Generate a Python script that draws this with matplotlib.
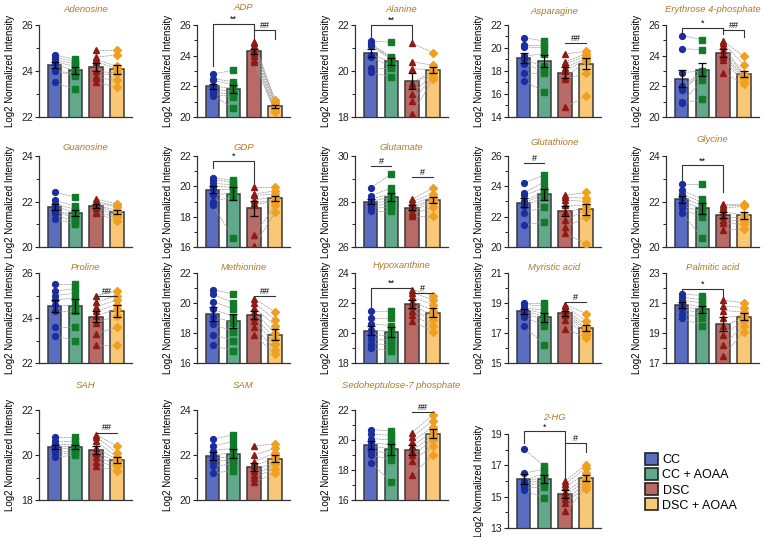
import matplotlib
matplotlib.use('Agg')
import matplotlib.pyplot as plt
import numpy as np
from matplotlib.patches import Patch

plt.rcParams['font.family'] = ['Liberation Sans', 'DejaVu Sans']

groups = ['CC', 'CC + AOAA', 'DSC', 'DSC + AOAA']
bar_colors = ['#5B6DC0', '#62A88A', '#B86A66', '#F8C877']
pt_colors = ['#1B2E9E', '#137A2A', '#8E1B14', '#F0A020']
markers = ['o', 's', '^', 'D']
title_color = '#B07A28'

# ---- data (4 groups x 8 paired samples) ----
adenosine = [[24.7, 24.6, 24.5, 24.4, 24.3, 24.0, 24.0, 23.5],
             [24.5, 24.4, 24.3, 24.2, 24.0, 23.9, 23.8, 23.2],
             [24.9, 24.6, 24.5, 24.4, 24.0, 23.8, 23.7, 23.5],
             [24.9, 24.7, 24.2, 24.1, 23.9, 23.9, 23.6, 23.3]]
adp = [[22.8, 22.5, 22.4, 22.0, 21.8, 21.6, 21.5, 21.4],
       [23.05, 22.3, 22.1, 21.9, 21.7, 21.5, 21.3, 20.6],
       [24.9, 24.8, 24.6, 24.4, 24.2, 24.0, 23.7, 23.6],
       [21.1, 21.0, 20.9, 20.8, 20.6, 20.5, 20.4, 20.3]]
alanine = [[21.3, 21.2, 21.15, 21.1, 20.7, 20.6, 20.15, 19.95],
           [21.25, 20.6, 20.55, 20.5, 20.4, 20.2, 20.15, 19.75],
           [21.2, 20.4, 20.1, 19.5, 19.4, 19.0, 18.7, 18.15],
           [20.8, 20.25, 20.05, 20.0, 19.95, 19.9, 19.75, 19.65]]
asparagine = [[20.9, 20.3, 20.1, 19.3, 19.0, 18.6, 17.8, 17.15],
              [20.6, 20.3, 20.0, 19.5, 18.4, 18.0, 17.8, 16.2],
              [19.5, 18.8, 18.6, 18.3, 18.0, 17.4, 17.3, 14.9],
              [19.7, 19.5, 19.3, 19.1, 19.0, 18.9, 17.8, 15.8]]
erythrose = [[25.3, 24.45, 22.9, 22.0, 21.8, 21.75, 20.95, 20.9],
             [25.05, 24.4, 23.0, 22.95, 22.9, 22.8, 22.4, 21.15],
             [24.95, 24.8, 24.6, 24.4, 24.1, 23.9, 23.7, 22.9],
             [23.95, 23.4, 22.8, 22.7, 22.6, 22.5, 22.3, 22.15]]
guanosine = [[22.4, 22.05, 21.9, 21.8, 21.65, 21.6, 21.45, 21.25],
             [22.2, 21.8, 21.65, 21.5, 21.35, 21.25, 21.1, 21.0],
             [22.1, 22.0, 21.95, 21.85, 21.8, 21.7, 21.55, 21.5],
             [21.9, 21.8, 21.75, 21.6, 21.5, 21.4, 21.3, 21.15]]
gdp = [[20.55, 20.4, 20.2, 20.0, 19.8, 19.4, 19.0, 18.75],
       [20.4, 20.3, 20.1, 19.95, 19.8, 19.6, 19.3, 16.6],
       [19.95, 19.5, 19.4, 19.1, 18.9, 18.8, 16.8, 16.05],
       [19.95, 19.7, 19.5, 19.3, 19.1, 19.0, 18.75, 18.3]]
glutamate = [[28.6, 28.25, 28.1, 28.0, 27.9, 27.8, 27.7, 27.6],
             [29.2, 28.6, 28.35, 28.2, 28.05, 27.9, 27.75, 27.6],
             [28.1, 28.0, 27.9, 27.8, 27.7, 27.55, 27.45, 27.35],
             [28.6, 28.35, 28.2, 28.1, 28.05, 28.0, 27.75, 27.35]]
glutathione = [[24.2, 23.55, 23.4, 23.0, 22.9, 22.7, 22.25, 21.45],
               [24.75, 24.3, 23.9, 23.7, 23.5, 23.3, 22.65, 21.65],
               [23.4, 23.3, 23.1, 22.8, 22.3, 21.8, 21.3, 20.9],
               [23.6, 23.2, 23.0, 22.8, 22.6, 22.4, 22.0, 20.2]]
glycine = [[22.75, 22.5, 22.35, 22.2, 22.0, 21.8, 21.7, 21.5],
           [22.75, 22.1, 21.95, 21.8, 21.7, 21.55, 21.3, 20.4],
           [21.9, 21.8, 21.7, 21.55, 21.35, 21.2, 21.05, 20.75],
           [21.9, 21.85, 21.8, 21.4, 21.25, 21.15, 21.0, 20.8]]
proline = [[25.5, 25.2, 25.0, 24.8, 24.6, 24.3, 23.6, 23.2],
           [25.5, 25.3, 25.1, 24.9, 24.6, 24.3, 23.6, 23.0],
           [25.0, 24.7, 24.5, 24.3, 24.1, 23.8, 23.3, 22.8],
           [25.2, 25.0, 24.8, 24.6, 24.4, 24.1, 23.6, 22.8]]
methionine = [[20.9, 20.6, 20.1, 19.6, 19.1, 18.6, 17.9, 17.2],
              [20.6, 20.0, 19.6, 19.1, 18.7, 18.1, 17.5, 16.8],
              [20.3, 20.0, 19.7, 19.4, 19.1, 18.8, 18.4, 17.9],
              [19.4, 18.9, 18.5, 18.0, 17.6, 17.3, 16.9, 16.6]]
hypoxanthine = [[21.5, 21.0, 20.6, 20.2, 19.9, 19.6, 19.3, 19.0],
                [21.5, 21.0, 20.5, 20.1, 19.8, 19.5, 19.2, 18.8],
                [22.9, 22.7, 22.4, 22.1, 21.8, 21.5, 21.2, 20.8],
                [22.5, 22.2, 21.9, 21.5, 21.2, 20.9, 20.5, 20.1]]
myristic = [[19.0, 18.9, 18.7, 18.6, 18.5, 18.3, 18.1, 17.5],
            [19.0, 18.8, 18.5, 18.3, 18.1, 17.9, 17.5, 16.2],
            [18.9, 18.8, 18.6, 18.5, 18.3, 18.2, 17.9, 17.3],
            [18.3, 17.8, 17.5, 17.3, 17.2, 17.0, 16.9, 16.7]]
palmitic = [[21.6, 21.4, 21.2, 21.0, 20.8, 20.6, 20.3, 20.0],
            [21.5, 21.2, 21.0, 20.7, 20.5, 20.3, 20.0, 19.5],
            [21.2, 20.8, 20.5, 20.0, 19.5, 18.9, 18.2, 17.5],
            [21.0, 20.7, 20.4, 20.2, 20.0, 19.8, 19.5, 19.1]]
sah = [[20.8, 20.6, 20.5, 20.4, 20.3, 20.2, 20.1, 19.9],
       [20.8, 20.6, 20.5, 20.4, 20.3, 20.2, 20.1, 20.0],
       [20.9, 20.8, 20.6, 20.3, 20.1, 19.9, 19.7, 19.5],
       [20.4, 20.1, 19.9, 19.8, 19.7, 19.6, 19.5, 19.3]]
sam = [[22.7, 22.4, 22.2, 22.0, 21.9, 21.7, 21.5, 21.2],
       [22.9, 22.6, 22.3, 22.1, 21.9, 21.8, 21.6, 21.3],
       [22.4, 22.0, 21.7, 21.5, 21.3, 21.1, 21.0, 20.8],
       [22.5, 22.3, 22.1, 21.9, 21.7, 21.6, 21.4, 21.2]]
sedoheptulose = [[20.7, 20.4, 20.1, 19.8, 19.6, 19.3, 19.0, 18.5],
                 [20.6, 20.3, 20.0, 19.7, 19.4, 19.1, 18.7, 17.2],
                 [20.5, 20.2, 19.9, 19.6, 19.3, 19.0, 18.6, 17.7],
                 [21.7, 21.3, 20.9, 20.6, 20.3, 20.0, 19.6, 19.0]]
hg2 = [[18.05, 16.5, 16.0, 15.9, 15.8, 15.7, 15.55, 15.45],
       [16.95, 16.75, 16.5, 16.3, 16.1, 15.9, 15.6, 14.9],
       [16.0, 15.8, 15.6, 15.3, 15.1, 14.85, 14.6, 14.1],
       [17.05, 16.85, 16.5, 16.2, 16.0, 15.8, 15.6, 15.5]]

titles = ['Adenosine', 'ADP', 'Alanine', 'Asparagine', 'Erythrose 4-phosphate',
          'Guanosine', 'GDP', 'Glutamate', 'Glutathione', 'Glycine',
          'Proline', 'Methionine', 'Hypoxanthine', 'Myristic acid', 'Palmitic acid',
          'SAH', 'SAM', 'Sedoheptulose-7 phosphate', '2-HG']
datasets = [adenosine, adp, alanine, asparagine, erythrose,
            guanosine, gdp, glutamate, glutathione, glycine,
            proline, methionine, hypoxanthine, myristic, palmitic,
            sah, sam, sedoheptulose, hg2]
yticks = [[22, 24, 26], [20, 22, 24, 26], [18, 20, 22], [14, 16, 18, 20, 22], [20, 22, 24, 26],
          [20, 22, 24], [16, 18, 20, 22], [26, 28, 30], [20, 22, 24, 26], [20, 22, 24],
          [22, 24, 26], [16, 18, 20, 22], [18, 20, 22, 24], [15, 17, 19, 21], [17, 19, 21, 23],
          [18, 20, 22], [20, 22, 24], [16, 18, 20, 22], [13, 15, 17, 19]]
# significance: (i, j, height, leg_i_bottom, leg_j_bottom, label)
sigs = [[],
        [(0, 2, 26.05, 23.3, 25.1, '**'), (2, 3, 25.7, 25.7, 25.1, '##')],
        [(0, 2, 22.0, 21.5, 21.35, '**')],
        [(2, 3, 20.4, 20.4, 20.4, '##')],
        [(0, 2, 25.8, 25.5, 25.4, '*'), (2, 3, 25.66, 25.66, 25.2, '##')],
        [],
        [(0, 2, 21.67, 21.2, 20.2, '*')],
        [(0, 1, 29.55, 29.55, 29.55, '#'), (2, 3, 29.06, 29.06, 29.06, '#')],
        [(0, 1, 25.56, 25.56, 25.56, '#')],
        [(0, 2, 23.59, 22.93, 22.4, '**')],
        [(2, 3, 25.0, 25.0, 25.0, '##')],
        [(2, 3, 20.5, 20.5, 20.5, '##')],
        [(0, 2, 23.0, 21.7, 23.0, '**'), (2, 3, 22.65, 22.65, 22.65, '#')],
        [(2, 3, 19.1, 19.1, 19.1, '#')],
        [(0, 2, 21.95, 21.75, 21.35, '*')],
        [(2, 3, 21.0, 21.0, 21.0, '##')],
        [],
        [(2, 3, 21.85, 21.85, 21.85, '##')],
        [(0, 2, 19.17, 18.43, 16.1, '*'), (2, 3, 18.43, 18.43, 17.85, '#')]]

W, H = 765, 537
fig = plt.figure(figsize=(W / 100, H / 100), dpi=100)

col_left = [39, 197, 355, 508, 666]
row_tb = [(25, 117), (156, 247), (273, 363), (410, 500)]
title_y = [10, 8, 10, 11, 10,
           147, 147, 147, 142, 139,
           267, 267, 266, 267, 267,
           385, 385, 385, 417]
axw = 93

for k, (title, data) in enumerate(zip(titles, datasets)):
    r, c = divmod(k, 5)
    top, bot = row_tb[r]
    if k == 18:
        top, bot = 434, 528
    ax = fig.add_axes([col_left[c] / W, 1 - bot / H, axw / W, (bot - top) / H])
    arr = [np.array(g) for g in data]
    means = [a.mean() for a in arr]
    sems = [a.std(ddof=1) / np.sqrt(len(a)) for a in arr]
    x = np.arange(4)
    ax.bar(x, means, width=0.65, color=bar_colors, edgecolor='#3a3a3a', linewidth=1.1, zorder=1)
    # paired lines
    for a, b in [(0, 1), (2, 3)]:
        for va, vb in zip(arr[a], arr[b]):
            ax.plot([a, b], [va, vb], color='#9a9a9a', lw=0.5, ls=(0, (3, 1)), zorder=2)
    for i in range(4):
        ax.plot(np.full(len(arr[i]), i), arr[i], ls='none', marker=markers[i],
                ms=4.2 if markers[i] != 'D' else 3.6, color=pt_colors[i], zorder=3)
        ax.errorbar(i, means[i], yerr=sems[i], color='black', lw=0.9, capsize=3,
                    capthick=0.9, zorder=4)
    yt = yticks[k]
    ax.set_ylim(yt[0], yt[-1])
    ax.set_yticks(yt)
    ax.set_yticks([(yt[m] + yt[m + 1]) / 2 for m in range(len(yt) - 1)], minor=True)
    ax.set_xlim(-0.75, 3.72)
    ax.set_xticks([])
    for s in ['top', 'right']:
        ax.spines[s].set_visible(False)
    for s in ['left', 'bottom']:
        ax.spines[s].set_color('#333333')
        ax.spines[s].set_linewidth(0.9)
    ax.tick_params(axis='y', which='major', labelsize=7.5, length=3, width=0.8, pad=1.5, colors='#222222')
    ax.tick_params(axis='y', which='minor', length=2, width=0.6)
    ax.set_ylabel('Log2 Normalized Intensity', fontsize=7, labelpad=4)
    fig.text((col_left[c] + axw / 2) / W, 1 - title_y[k] / H, title, fontsize=6.8,
             style='italic', color=title_color, ha='center', va='center')
    for (i, j, h, yi, yj, lab) in sigs[k]:
        ax.plot([i, i, j, j], [yi, h, h, yj], color='#333333', lw=0.8, clip_on=False, zorder=5)
        ax.text((i + j) / 2, h, lab, ha='center', va='bottom', fontsize=6.5, clip_on=False)

handles = [Patch(facecolor=bar_colors[i], edgecolor='#222222', linewidth=1.2, label=groups[i]) for i in range(4)]
fig.legend(handles=handles, loc='upper left', bbox_to_anchor=(640 / W, 1 - 448 / H),
           frameon=False, fontsize=9, handlelength=1.0, handleheight=1.1,
           handletextpad=0.4, labelspacing=0.15, borderaxespad=0)

fig.savefig('out.png', dpi=100)
